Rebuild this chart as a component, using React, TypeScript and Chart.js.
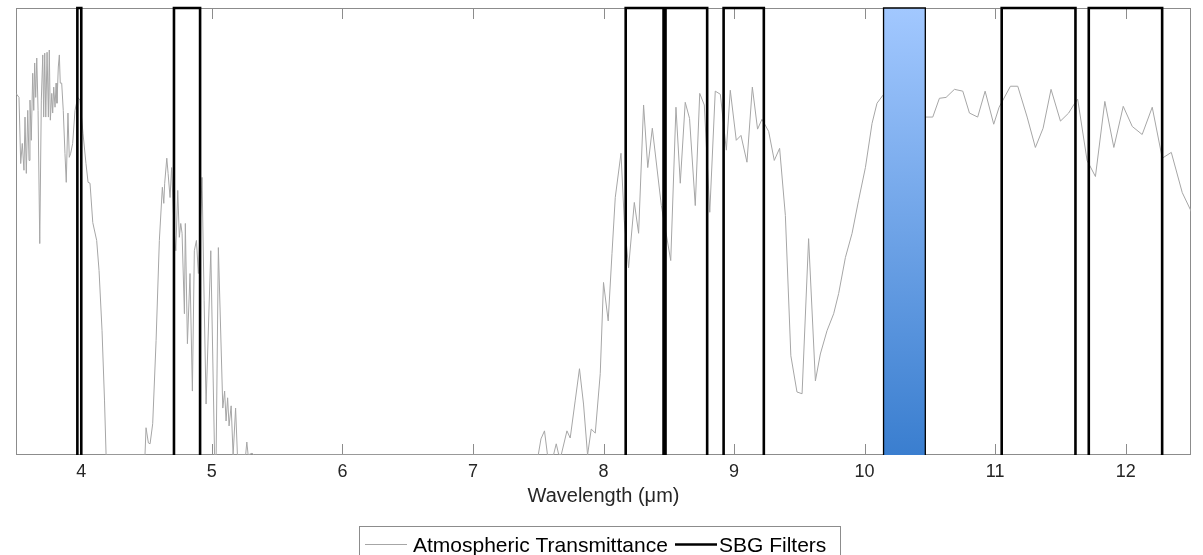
import React, { useEffect, useRef } from 'react';
import { Chart, registerables } from 'chart.js';

Chart.register(...registerables);

// Atmospheric transmittance spectrum (wavelength in µm, transmittance 0..1)
const wavelength = [
  3.5, 3.523, 3.536, 3.548, 3.561, 3.569, 3.579, 3.59, 3.6, 3.607, 3.617, 3.628, 3.636, 3.643, 3.651, 3.659,
  3.669, 3.682, 3.694, 3.705, 3.712, 3.72, 3.728, 3.738, 3.748, 3.755, 3.763, 3.774, 3.781, 3.789, 3.799, 3.807,
  3.814, 3.824, 3.832, 3.839, 3.85, 3.862, 3.875, 3.885, 3.898, 3.908, 3.919, 3.934, 3.952, 3.973, 3.99, 4.013,
  4.036, 4.052, 4.067, 4.088, 4.118, 4.136, 4.159, 4.178, 4.19, 4.488, 4.496, 4.514, 4.527, 4.547, 4.573, 4.598,
  4.621, 4.632, 4.639, 4.655, 4.665, 4.68, 4.692, 4.711, 4.724, 4.739, 4.751, 4.762, 4.772, 4.79, 4.797, 4.813,
  4.833, 4.851, 4.866, 4.882, 4.897, 4.925, 4.941, 4.956, 4.992, 5.021, 5.033, 5.05, 5.084, 5.098, 5.109, 5.121,
  5.132, 5.148, 5.163, 5.182, 5.196, 5.259, 5.268, 5.278, 5.308, 5.324, 7.5, 7.521, 7.548, 7.571, 7.617, 7.638,
  7.656, 7.676, 7.72, 7.745, 7.783, 7.816, 7.847, 7.878, 7.906, 7.937, 7.975, 8.0, 8.036, 8.065, 8.09, 8.134,
  8.159, 8.192, 8.236, 8.269, 8.307, 8.339, 8.374, 8.443, 8.515, 8.555, 8.588, 8.626, 8.659, 8.703, 8.737, 8.772,
  8.814, 8.856, 8.895, 8.941, 8.971, 9.017, 9.053, 9.099, 9.14, 9.18, 9.214, 9.265, 9.308, 9.349, 9.393, 9.435,
  9.482, 9.521, 9.571, 9.623, 9.661, 9.712, 9.763, 9.801, 9.853, 9.904, 9.954, 10.006, 10.057, 10.095, 10.141, 10.3,
  10.466, 10.522, 10.573, 10.624, 10.688, 10.752, 10.803, 10.866, 10.923, 10.989, 11.03, 11.117, 11.173, 11.245, 11.308, 11.367,
  11.428, 11.5, 11.563, 11.601, 11.632, 11.704, 11.768, 11.84, 11.909, 11.981, 12.05, 12.126, 12.203, 12.28, 12.349, 12.433,
  12.505,
];
const transmittance = [
  0.809, 0.8, 0.652, 0.697, 0.637, 0.756, 0.63, 0.771, 0.659, 0.794, 0.704, 0.854, 0.771, 0.877, 0.8, 0.888,
  0.771, 0.473, 0.794, 0.895, 0.756, 0.899, 0.756, 0.901, 0.756, 0.906, 0.749, 0.809, 0.765, 0.823, 0.778, 0.832,
  0.787, 0.868, 0.895, 0.832, 0.832, 0.771, 0.675, 0.61, 0.765, 0.666, 0.675, 0.697, 0.771, 0.8, 0.794, 0.72,
  0.652, 0.61, 0.608, 0.52, 0.48, 0.413, 0.278, 0.121, 0, 0, 0.061, 0.027, 0.025, 0.07, 0.256, 0.48,
  0.599, 0.563, 0.608, 0.664, 0.63, 0.576, 0.643, 0.502, 0.457, 0.592, 0.487, 0.518, 0.496, 0.316, 0.518, 0.249,
  0.406, 0.143, 0.457, 0.48, 0.406, 0.621, 0.345, 0.114, 0.457, 0, 0, 0.464, 0.105, 0.143, 0.076, 0.128,
  0.065, 0.11, 0, 0.105, 0, 0, 0.029, 0, 0.004, 0, 0, 0.036, 0.054, 0, 0, 0.025,
  0.002, 0, 0.054, 0.038, 0.121, 0.193, 0.114, 0, 0.058, 0.049, 0.182, 0.386, 0.3, 0.451, 0.576, 0.675,
  0.525, 0.419, 0.565, 0.496, 0.783, 0.643, 0.731, 0.558, 0.435, 0.778, 0.608, 0.789, 0.753, 0.558, 0.809, 0.783,
  0.543, 0.814, 0.807, 0.682, 0.816, 0.704, 0.715, 0.655, 0.823, 0.729, 0.751, 0.724, 0.659, 0.686, 0.536, 0.222,
  0.141, 0.137, 0.484, 0.166, 0.226, 0.278, 0.316, 0.361, 0.442, 0.496, 0.57, 0.643, 0.742, 0.787, 0.805, 0.8,
  0.756, 0.756, 0.798, 0.8, 0.818, 0.814, 0.765, 0.756, 0.814, 0.74, 0.778, 0.825, 0.825, 0.756, 0.688, 0.731,
  0.818, 0.747, 0.765, 0.783, 0.796, 0.659, 0.623, 0.791, 0.688, 0.78, 0.735, 0.717, 0.778, 0.664, 0.677, 0.587,
  0.543,
];

// SBG filter pass bands (µm)
const filterStart = [3.97, 4.71, 8.17, 8.475, 8.92, 11.05, 11.717];
const filterEnd = [4.0, 4.91, 8.46, 8.794, 9.228, 11.615, 12.279];
// Highlighted (filled) filter band (µm)
const highlightStart = [10.145];
const highlightEnd = [10.465];

const xTicks = [4, 5, 6, 7, 8, 9, 10, 11, 12];
const xMin = 3.5;
const xMax = 12.5;
const seriesNames = ['Atmospheric Transmittance', 'SBG Filters'];
const axisTitle = 'Wavelength (\u03BCm)';

const FONT = '"Liberation Sans", Arial, Helvetica, sans-serif';

function rectPoints(starts: number[], ends: number[]) {
  const pts: { x: number; y: number | null }[] = [];
  starts.forEach((s, i) => {
    const e = ends[i];
    if (i > 0) pts.push({ x: (ends[i - 1] + s) / 2, y: null });
    pts.push({ x: s, y: 0 }, { x: s, y: 1 }, { x: e, y: 1 }, { x: e, y: 0 });
  });
  return pts;
}

const framePlugin = {
  id: 'matlabFrame',
  beforeDatasetsDraw(chart: any) {
    const { ctx, chartArea: a, scales } = chart;
    const x = scales.x;
    ctx.save();
    ctx.strokeStyle = '#8c8c8c';
    ctx.lineWidth = 1;
    ctx.strokeRect(a.left + 0.5, a.top + 0.5, a.right - a.left - 1, a.bottom - a.top - 1);
    ctx.beginPath();
    xTicks.forEach((v) => {
      const px = Math.round(x.getPixelForValue(v)) + 0.5;
      ctx.moveTo(px, a.bottom);
      ctx.lineTo(px, a.bottom - 11);
      ctx.moveTo(px, a.top);
      ctx.lineTo(px, a.top + 11);
    });
    ctx.stroke();
    ctx.restore();
  },
  afterDraw(chart: any) {
    const { ctx } = chart;
    ctx.save();
    // legend box
    const boxL = 359, boxR = 841, boxT = 526, boxB = 575;
    ctx.fillStyle = '#ffffff';
    ctx.fillRect(boxL, boxT, boxR - boxL, boxB - boxT);
    ctx.strokeStyle = '#8c8c8c';
    ctx.lineWidth = 1;
    ctx.strokeRect(boxL + 0.5, boxT + 0.5, boxR - boxL - 1, boxB - boxT);
    const ly = 544.5;
    ctx.strokeStyle = '#a6a6a6';
    ctx.lineWidth = 1;
    ctx.beginPath();
    ctx.moveTo(365, ly);
    ctx.lineTo(407, ly);
    ctx.stroke();
    ctx.strokeStyle = '#000000';
    ctx.lineWidth = 2.6;
    ctx.beginPath();
    ctx.moveTo(675, ly);
    ctx.lineTo(717, ly);
    ctx.stroke();
    ctx.fillStyle = '#000000';
    ctx.font = `21px ${FONT}`;
    ctx.textBaseline = 'alphabetic';
    ctx.textAlign = 'left';
    ctx.fillText(seriesNames[0], 413, 551.5);
    ctx.fillText(seriesNames[1], 719, 551.5);
    ctx.restore();
  },
};

export default function App() {
  const canvasRef = useRef<HTMLCanvasElement | null>(null);

  useEffect(() => {
    const canvas = canvasRef.current;
    if (!canvas) return;
    const transData = wavelength.map((w, i) => ({ x: w, y: transmittance[i] }));
    const chart = new Chart(canvas, {
      type: 'line',
      data: {
        datasets: [
          {
            label: seriesNames[0],
            data: transData,
            borderColor: '#a6a6a6',
            borderWidth: 1,
            pointRadius: 0,
            tension: 0,
            fill: false,
            order: 2,
          },
          {
            label: 'highlight',
            data: rectPoints(highlightStart, highlightEnd),
            borderColor: '#000000',
            borderWidth: 1.3,
            pointRadius: 0,
            tension: 0,
            fill: 'origin',
            clip: 4,
            order: 1,
            backgroundColor: (c: any) => {
              const { chart: ch } = c;
              const area = ch.chartArea;
              if (!area) return '#6fa3ea';
              const g = ch.ctx.createLinearGradient(0, area.bottom, 0, area.top);
              g.addColorStop(0, '#3a7ecf');
              g.addColorStop(1, '#a2c8ff');
              return g;
            },
          },
          {
            label: seriesNames[1],
            data: rectPoints(filterStart, filterEnd),
            borderColor: '#000000',
            borderWidth: 2.6,
            pointRadius: 0,
            tension: 0,
            fill: false,
            spanGaps: false,
            clip: 4,
            order: 0,
          },
        ] as any,
      },
      options: {
        animation: false,
        responsive: true,
        maintainAspectRatio: false,
        layout: { padding: { left: 16, right: 12, top: 8, bottom: 46.4 } },
        plugins: {
          legend: { display: false },
          tooltip: { enabled: false },
        },
        scales: {
          x: {
            type: 'linear',
            min: xMin,
            max: xMax,
            afterBuildTicks: (scale: any) => {
              scale.ticks = xTicks.map((v) => ({ value: v }));
            },
            grid: { display: false, drawTicks: false },
            border: { display: false },
            ticks: {
              padding: 6,
              color: '#262626',
              font: { family: FONT, size: 18 },
              callback: (v: any) => String(v),
            },
            title: {
              display: true,
              text: axisTitle,
              color: '#262626',
              font: { family: FONT, size: 20 },
              padding: { top: -4, bottom: 0 },
            },
          },
          y: {
            display: false,
            min: 0,
            max: 1,
          },
        },
      } as any,
      plugins: [framePlugin],
    });
    return () => chart.destroy();
  }, []);

  return (
    <div style={{ position: 'fixed', left: 0, top: 0, width: 1203, height: 555, background: '#fff' }}>
      <canvas ref={canvasRef} />
    </div>
  );
}
